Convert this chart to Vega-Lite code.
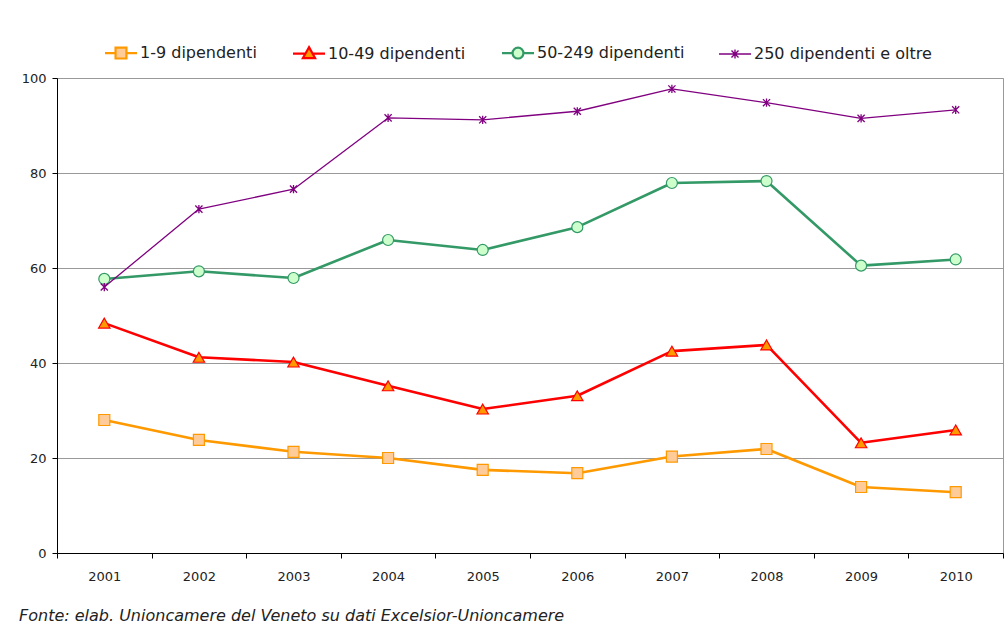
{
  "$schema": "https://vega.github.io/schema/vega-lite/v6.json",
  "width": 946,
  "height": 475,
  "autosize": "none",
  "padding": {"left": 57, "top": 78, "right": 2, "bottom": 77},
  "background": "white",
  "config": {
    "font": "DejaVu Sans",
    "view": {"stroke": "#999999", "strokeWidth": 1}
  },
  "title": {
    "text": "Fonte: elab. Unioncamere del Veneto su dati Excelsior-Unioncamere",
    "orient": "bottom",
    "anchor": "start",
    "frame": "group",
    "dx": -38,
    "offset": 25,
    "fontSize": 16,
    "fontStyle": "italic",
    "fontWeight": "normal",
    "color": "#222222"
  },
  "data": {
    "values": [
      {"year": "2001", "series": "1-9 dipendenti", "value": 28.0},
      {"year": "2002", "series": "1-9 dipendenti", "value": 23.8},
      {"year": "2003", "series": "1-9 dipendenti", "value": 21.3},
      {"year": "2004", "series": "1-9 dipendenti", "value": 20.0},
      {"year": "2005", "series": "1-9 dipendenti", "value": 17.5},
      {"year": "2006", "series": "1-9 dipendenti", "value": 16.8},
      {"year": "2007", "series": "1-9 dipendenti", "value": 20.3},
      {"year": "2008", "series": "1-9 dipendenti", "value": 21.9},
      {"year": "2009", "series": "1-9 dipendenti", "value": 13.9},
      {"year": "2010", "series": "1-9 dipendenti", "value": 12.8},
      {"year": "2001", "series": "10-49 dipendenti", "value": 48.4},
      {"year": "2002", "series": "10-49 dipendenti", "value": 41.2},
      {"year": "2003", "series": "10-49 dipendenti", "value": 40.2},
      {"year": "2004", "series": "10-49 dipendenti", "value": 35.2},
      {"year": "2005", "series": "10-49 dipendenti", "value": 30.3},
      {"year": "2006", "series": "10-49 dipendenti", "value": 33.1},
      {"year": "2007", "series": "10-49 dipendenti", "value": 42.5},
      {"year": "2008", "series": "10-49 dipendenti", "value": 43.8},
      {"year": "2009", "series": "10-49 dipendenti", "value": 23.2},
      {"year": "2010", "series": "10-49 dipendenti", "value": 25.9},
      {"year": "2001", "series": "50-249 dipendenti", "value": 57.7},
      {"year": "2002", "series": "50-249 dipendenti", "value": 59.3},
      {"year": "2003", "series": "50-249 dipendenti", "value": 57.9},
      {"year": "2004", "series": "50-249 dipendenti", "value": 65.9},
      {"year": "2005", "series": "50-249 dipendenti", "value": 63.8},
      {"year": "2006", "series": "50-249 dipendenti", "value": 68.6},
      {"year": "2007", "series": "50-249 dipendenti", "value": 77.9},
      {"year": "2008", "series": "50-249 dipendenti", "value": 78.3},
      {"year": "2009", "series": "50-249 dipendenti", "value": 60.5},
      {"year": "2010", "series": "50-249 dipendenti", "value": 61.8},
      {"year": "2001", "series": "250 dipendenti e oltre", "value": 56.0},
      {"year": "2002", "series": "250 dipendenti e oltre", "value": 72.4},
      {"year": "2003", "series": "250 dipendenti e oltre", "value": 76.6},
      {"year": "2004", "series": "250 dipendenti e oltre", "value": 91.6},
      {"year": "2005", "series": "250 dipendenti e oltre", "value": 91.2},
      {"year": "2006", "series": "250 dipendenti e oltre", "value": 93.0},
      {"year": "2007", "series": "250 dipendenti e oltre", "value": 97.7},
      {"year": "2008", "series": "250 dipendenti e oltre", "value": 94.8},
      {"year": "2009", "series": "250 dipendenti e oltre", "value": 91.5},
      {"year": "2010", "series": "250 dipendenti e oltre", "value": 93.3}
    ]
  },
  "encoding": {
    "x": {
      "field": "year",
      "type": "ordinal",
      "scale": {"type": "band", "paddingInner": 0, "paddingOuter": 0},
      "axis": {
        "title": null,
        "tickBand": "extent",
        "labelAngle": 0,
        "grid": false,
        "domainColor": "#000000",
        "tickColor": "#000000",
        "tickSize": 5,
        "labelPadding": 12,
        "labelFontSize": 13,
        "labelColor": "#222222"
      }
    },
    "y": {
      "field": "value",
      "type": "quantitative",
      "scale": {"domain": [0, 100]},
      "axis": {
        "title": null,
        "values": [0, 20, 40, 60, 80, 100],
        "grid": true,
        "gridColor": "#999999",
        "domainColor": "#000000",
        "tickColor": "#000000",
        "tickSize": 5,
        "labelPadding": 6,
        "labelFontSize": 13,
        "labelColor": "#222222"
      }
    },
    "stroke": {
      "field": "series",
      "type": "nominal",
      "scale": {
        "domain": ["1-9 dipendenti", "10-49 dipendenti", "50-249 dipendenti", "250 dipendenti e oltre"],
        "range": ["#FF9900", "#FF0000", "#339966", "#800080"]
      },
      "legend": {
        "orient": "none",
        "legendX": 56,
        "legendY": -33,
        "direction": "horizontal",
        "columns": 4,
        "title": null,
        "labelFontSize": 16,
        "labelColor": "#222222",
        "labelOffset": 11,
        "labelLimit": 400,
        "columnPadding": 31,
        "symbolSize": 1024,
        "symbolStrokeWidth": 2.2,
        "symbolOpacity": 1,
        "encode": {
          "symbols": {
            "update": {
              "size": {"value": 1024},
              "shape": {"signal": "datum.value == '1-9 dipendenti' ? 'M-1,0H-0.34M0.34,0H1M-0.34,-0.34H0.34V0.34H-0.34Z' : datum.value == '10-49 dipendenti' ? 'M-1,0H-0.22M0.22,0H1M0,-0.4L0.38,0.28H-0.38Z' : datum.value == '50-249 dipendenti' ? 'M-1,0H-0.34M0.34,0H1M0.34,0A0.34,0.34 0 1,1 -0.34,0A0.34,0.34 0 1,1 0.34,0Z' : 'M-1,0H1M-0.22,-0.22L0.22,0.22M-0.22,0.22L0.22,-0.22M0,-0.28V0.28'"},
              "fill": {"signal": "datum.value == '1-9 dipendenti' ? '#FFCC99' : datum.value == '10-49 dipendenti' ? '#FF9900' : datum.value == '50-249 dipendenti' ? '#CCFFCC' : '#800080'"},
              "strokeWidth": {"signal": "datum.value == '250 dipendenti e oltre' ? 1.4 : 2.2"}
            }
          }
        }
      }
    }
  },
  "layer": [
    {
      "transform": [{"filter": "datum.series != '250 dipendenti e oltre'"}],
      "mark": {"type": "line", "strokeWidth": 2.6, "strokeCap": "round", "strokeJoin": "round"}
    },
    {
      "transform": [{"filter": "datum.series == '250 dipendenti e oltre'"}],
      "mark": {"type": "line", "strokeWidth": 1.3, "strokeCap": "round", "strokeJoin": "round"}
    },
    {
      "transform": [{"filter": "datum.series == '1-9 dipendenti'"}],
      "mark": {"type": "point", "shape": "square", "fill": "#FFCC99", "filled": true, "opacity": 1, "size": 121, "strokeWidth": 1.2}
    },
    {
      "transform": [{"filter": "datum.series == '10-49 dipendenti'"}],
      "mark": {"type": "point", "shape": "triangle-up", "fill": "#FF9900", "filled": true, "opacity": 1, "size": 130, "strokeWidth": 1.2}
    },
    {
      "transform": [{"filter": "datum.series == '50-249 dipendenti'"}],
      "mark": {"type": "point", "shape": "circle", "fill": "#CCFFCC", "filled": true, "opacity": 1, "size": 121, "strokeWidth": 1.2}
    },
    {
      "transform": [{"filter": "datum.series == '250 dipendenti e oltre'"}],
      "mark": {"type": "point", "shape": "M-0.65,-0.65L0.65,0.65M-0.65,0.65L0.65,-0.65M0,-0.75V0.75", "fill": "#800080", "filled": true, "opacity": 1, "size": 121, "strokeWidth": 1.3}
    }
  ]
}
